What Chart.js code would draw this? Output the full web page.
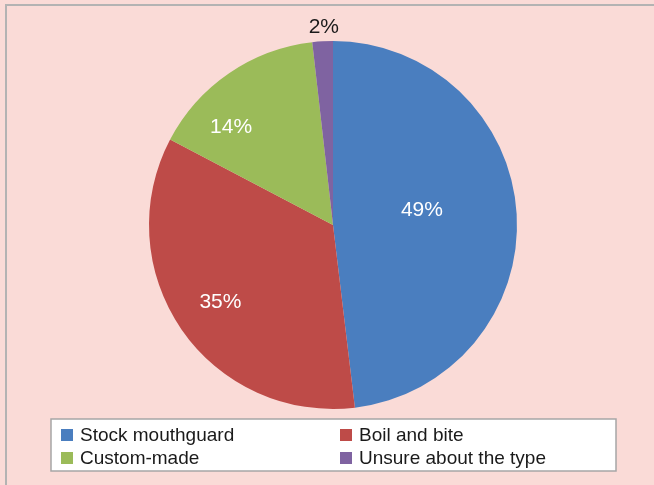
<!DOCTYPE html>
<html>
<head>
<meta charset="utf-8">
<script src="https://cdn.jsdelivr.net/npm/chart.js@4.4.1/dist/chart.umd.min.js"></script>
<style>
  body { margin: 0; background: #fadbd7; }
  #pieChart { display: block; }
</style>
</head>
<body>
<canvas id="pieChart" width="654" height="485"></canvas>
<script>
// mouthguard types, values
const categories = ['Stock mouthguard', 'Boil and bite', 'Custom-made', 'Unsure about the type'];
const shares = [48.1, 34.6, 15.5, 1.8];
const shareLabels = ['49%', '35%', '14%', '2%'];
const sliceColors = ['#4a7ebf', '#be4b48', '#9bbb59', '#7f63a1'];

const FONT = '"Liberation Sans", Arial, sans-serif';

// where each percentage sits: fraction of radius along mid angle + nudge
const labelPlace = [
    { r: 0.484, dx: 0, dy: -9, color: '#ffffff' },
    { r: 0.743, dx: 0, dy: 0, color: '#ffffff' },
    { r: 0.76, dx: -23, dy: 18, color: '#ffffff' },
    { r: 1.076, dx: 2, dy: 0, color: '#1a1a1a' }
];

const backdrop = {
    id: 'backdrop',
    beforeDraw(chart) {
        const ctx = chart.ctx;
        ctx.save();
        ctx.fillStyle = '#fadbd7';
        ctx.fillRect(0, 0, chart.width, chart.height);
        ctx.strokeStyle = '#b3b3b3';
        ctx.lineWidth = 2;
        ctx.beginPath();
        ctx.moveTo(6, chart.height);
        ctx.lineTo(6, 5);
        ctx.lineTo(chart.width, 5);
        ctx.stroke();
        ctx.restore();
    }
};

const sliceLabels = {
    id: 'sliceLabels',
    afterDatasetsDraw(chart) {
        const ctx = chart.ctx;
        const arcs = chart.getDatasetMeta(0).data;
        ctx.save();
        ctx.font = '21px ' + FONT;
        ctx.textAlign = 'center';
        ctx.textBaseline = 'middle';
        arcs.forEach((arc, i) => {
            const p = labelPlace[i];
            const mid = (arc.startAngle + arc.endAngle) / 2;
            const rad = arc.outerRadius * p.r;
            const x = arc.x + Math.cos(mid) * rad + p.dx;
            const y = arc.y + Math.sin(mid) * rad + p.dy;
            ctx.fillStyle = p.color;
            ctx.fillText(shareLabels[i], x, y);
        });
        ctx.restore();
    }
};

const boxLegend = {
    id: 'boxLegend',
    afterDraw(chart) {
        const ctx = chart.ctx;
        ctx.save();
        ctx.fillStyle = '#ffffff';
        ctx.fillRect(51, 419, 565, 52);
        ctx.strokeStyle = '#a6a6a6';
        ctx.lineWidth = 1.5;
        ctx.strokeRect(51, 419, 565, 52);

        const cols = [61, 340];
        const rows = [435, 458];
        ctx.font = '19px ' + FONT;
        ctx.textBaseline = 'middle';
        ctx.textAlign = 'left';
        categories.forEach((name, i) => {
            const x = cols[i % 2];
            const y = rows[Math.floor(i / 2)];
            ctx.fillStyle = sliceColors[i];
            ctx.fillRect(x, y - 6, 12, 12);
            ctx.fillStyle = '#1a1a1a';
            ctx.fillText(name, x + 19, y + 1);
        });
        ctx.restore();
    }
};

const ctx = document.getElementById('pieChart').getContext('2d');
new Chart(ctx, {
    type: 'pie',
    data: {
        labels: categories,
        datasets: [{
            data: shares,
            backgroundColor: sliceColors,
            borderWidth: 0
        }]
    },
    options: {
        responsive: false,
        animation: false,
        layout: {
            padding: { left: 149, right: 137, top: 41, bottom: 76 }
        },
        plugins: {
            legend: { display: false },
            tooltip: { enabled: false }
        }
    },
    plugins: [backdrop, sliceLabels, boxLegend]
});
</script>
</body>
</html>
